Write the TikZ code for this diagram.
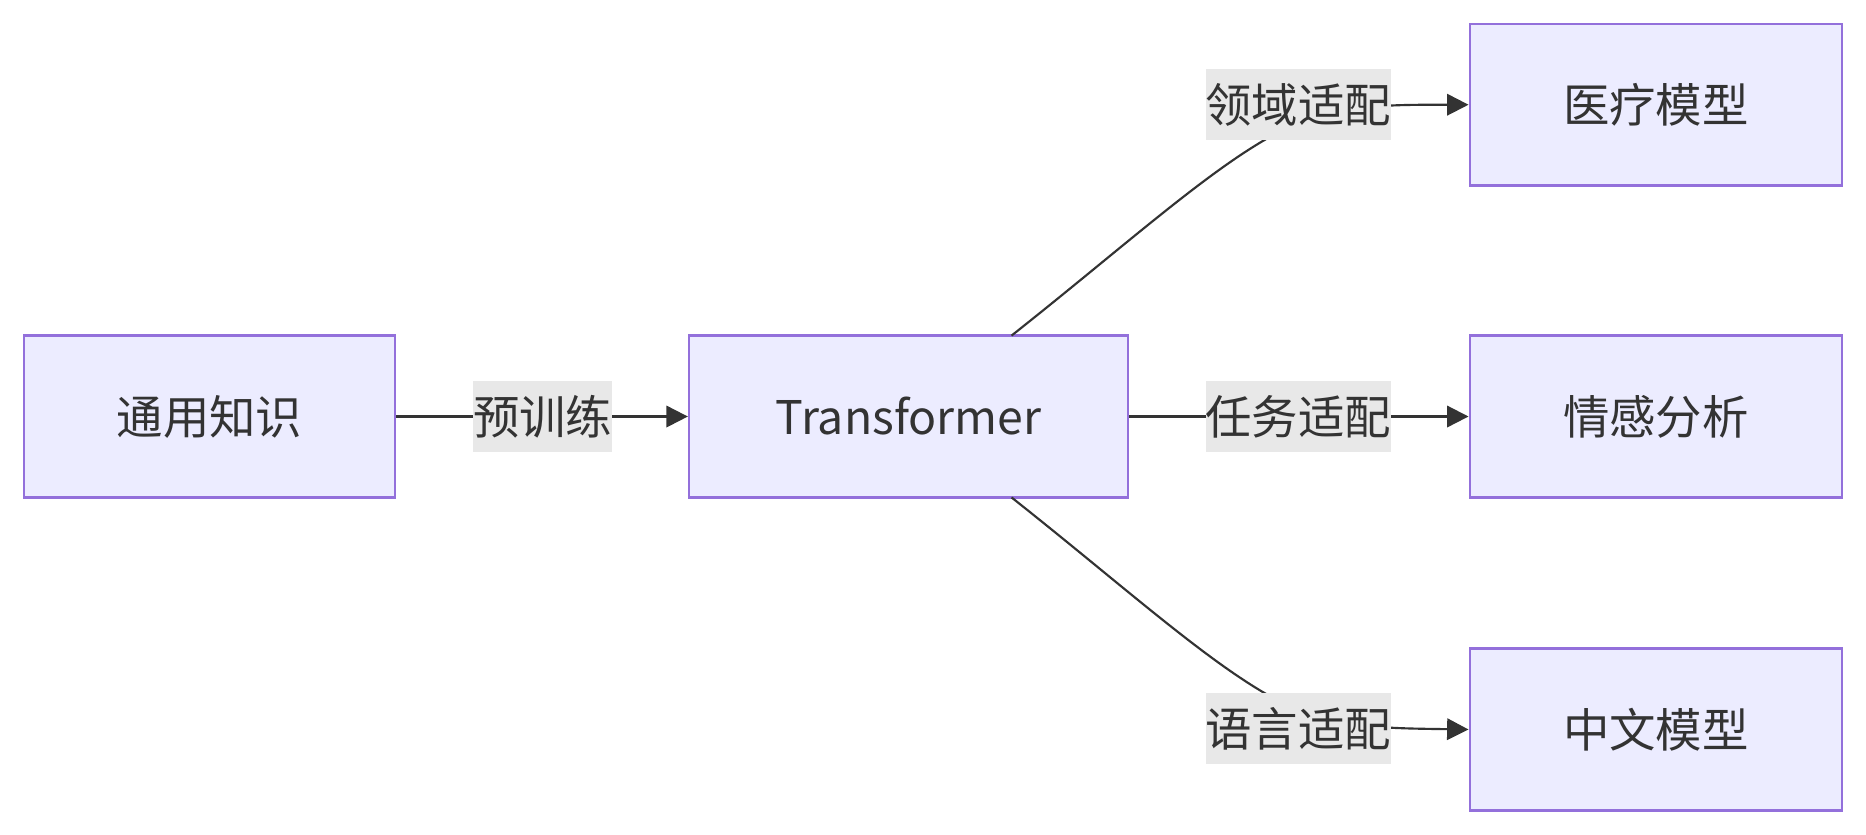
\documentclass[tikz,border=0pt]{standalone}
\usepackage{fontspec}
\setmainfont{Noto Sans CJK SC}
\usetikzlibrary{arrows.meta}
\definecolor{boxfill}{HTML}{ECECFF}
\definecolor{boxline}{HTML}{9370DB}
\definecolor{lblfill}{HTML}{E8E8E8}
\definecolor{ink}{HTML}{333333}
\begin{document}
\begin{tikzpicture}[x=0.5pt,y=-0.5pt,
  box/.style={draw=boxline,fill=boxfill,line width=1pt,minimum height=68pt,inner sep=0pt,font=\fontsize{19.5}{22}\selectfont,text=ink},
  lbl/.style={fill=lblfill,inner sep=0pt,font=\fontsize{19.5}{22}\selectfont,text=ink,minimum height=30pt},
  conn/.style={draw=ink,line width=0.9pt,-{Triangle[length=9pt,width=9pt]}}]
\useasboundingbox (0,0) rectangle (1568,701);
\node[box,minimum width=156pt] (A) at (176,350) {通用知识};
\node[box,minimum width=184.5pt] (T) at (763.5,350) {Transformer};
\node[box,minimum width=156.5pt] (M) at (1391.5,88) {医疗模型};
\node[box,minimum width=156.5pt] (S) at (1391.5,350) {情感分析};
\node[box,minimum width=156.5pt] (C) at (1391.5,613) {中文模型};
\coordinate (t1) at (850,282);
\coordinate (t2) at (850,418);
\draw[conn] (A) -- (T);
\draw[conn] (T) -- (S);
\draw[conn] (t1) .. controls (960,195) and (1040,120) .. (1100,100) .. controls (1140,88) and (1170,88) .. (M.west);
\draw[conn] (t2) .. controls (960,505) and (1040,580) .. (1100,600) .. controls (1140,612) and (1170,612) .. (C.west);
\node[lbl] (l1) at (456,350) {预训练};
\node[lbl] (l2) at (1091,350) {任务适配};
\node[lbl] (l3) at (1091,88) {领域适配};
\node[lbl] (l4) at (1091,612) {语言适配};
\end{tikzpicture}
\end{document}
